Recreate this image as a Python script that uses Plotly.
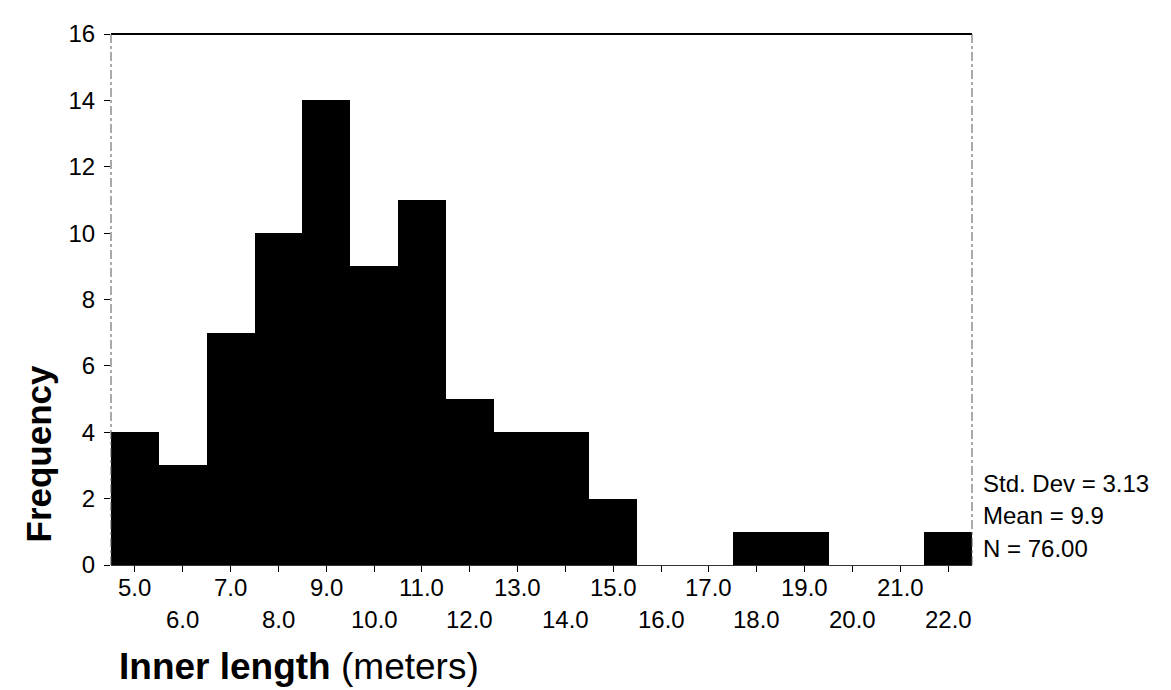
import plotly.graph_objects as go

# Data: histogram bins (centers, width 1.0) and frequencies
bin_centers = [5.0, 6.0, 7.0, 8.0, 9.0, 10.0, 11.0, 12.0, 13.0, 14.0, 15.0,
               16.0, 17.0, 18.0, 19.0, 20.0, 21.0, 22.0]
frequencies = [4, 3, 7, 10, 14, 9, 11, 5, 4, 4, 2, 0, 0, 1, 1, 0, 0, 1]
tick_labels = ["5.0", "6.0", "7.0", "8.0", "9.0", "10.0", "11.0", "12.0", "13.0",
               "14.0", "15.0", "16.0", "17.0", "18.0", "19.0", "20.0", "21.0", "22.0"]
y_ticks = [0, 2, 4, 6, 8, 10, 12, 14, 16]
stats_lines = ["Std. Dev = 3.13", "Mean = 9.9", "N = 76.00"]

FONT = "Arial, Liberation Sans, sans-serif"
PLOT_H = 690 - 17 - 133  # plot height in px, used to place annotations

fig = go.Figure()
fig.add_trace(go.Bar(
    x=bin_centers, y=frequencies, width=1.0,
    marker=dict(color="black", line=dict(color="black", width=0)),
    showlegend=False, hoverinfo="x+y",
))

fig.update_layout(
    width=1171, height=690,
    margin=dict(l=103, r=207, t=17, b=133),
    paper_bgcolor="white", plot_bgcolor="white",
    font=dict(family=FONT, color="black"),
    bargap=0,
    xaxis=dict(
        range=[4.5, 22.5], tickmode="array", tickvals=bin_centers, ticktext=[""] * len(bin_centers),
        ticks="outside", ticklen=6, tickwidth=1, tickcolor="black",
        showgrid=False, zeroline=False, showline=True, linecolor="#333", linewidth=1,
    ),
    yaxis=dict(
        range=[0, 16], tickmode="array", tickvals=y_ticks,
        ticks="outside", ticklen=6, tickwidth=1, tickcolor="black",
        ticklabelstandoff=4,
        tickfont=dict(size=24, family=FONT), showgrid=False, zeroline=False,
        showline=False,
    ),
)

# Border: solid top, dashed left/right
fig.add_shape(type="line", xref="paper", yref="paper", x0=0, x1=1, y0=1, y1=1,
              line=dict(color="black", width=2))
fig.add_shape(type="line", xref="paper", yref="paper", x0=0, x1=0, y0=0, y1=1,
              line=dict(color="#555", width=1, dash="dashdot"))
fig.add_shape(type="line", xref="paper", yref="paper", x0=1, x1=1, y0=0, y1=1,
              line=dict(color="#555", width=1, dash="dashdot"))

# Staggered x tick labels
for i, (xv, lab) in enumerate(zip(bin_centers, tick_labels)):
    off = 23 if i % 2 == 0 else 55
    fig.add_annotation(x=xv, xref="x", y=-off / PLOT_H, yref="paper",
                       text=lab, showarrow=False, yanchor="middle", xanchor="center",
                       font=dict(size=24, family=FONT, color="black"))

# Axis titles
fig.add_annotation(x=30, xref="paper", y=0.21, yref="paper", text="<b>Frequency</b>",
                   textangle=-90, showarrow=False, xanchor="center", yanchor="middle",
                   font=dict(size=35, family=FONT, color="black"))
fig.layout.annotations[-1].x = (30 - 103) / (1171 - 103 - 207)
fig.add_annotation(x=(291 - 103) / (1171 - 103 - 207), xref="paper", y=-(660 - 557) / PLOT_H,
                   yref="paper", text="<b>Inner length</b> (meters)", showarrow=False,
                   xanchor="center", yanchor="middle",
                   font=dict(size=37, family=FONT, color="black"))

# Stats text
for j, line in enumerate(stats_lines):
    yc = 474 + j * 33
    fig.add_annotation(x=(973 - 103) / (1171 - 103 - 207), xref="paper", y=(557 - yc) / PLOT_H,
                       yref="paper", text=line, showarrow=False, xanchor="left", yanchor="middle",
                       font=dict(size=24, family=FONT, color="black"))

fig.write_html("out.html")
